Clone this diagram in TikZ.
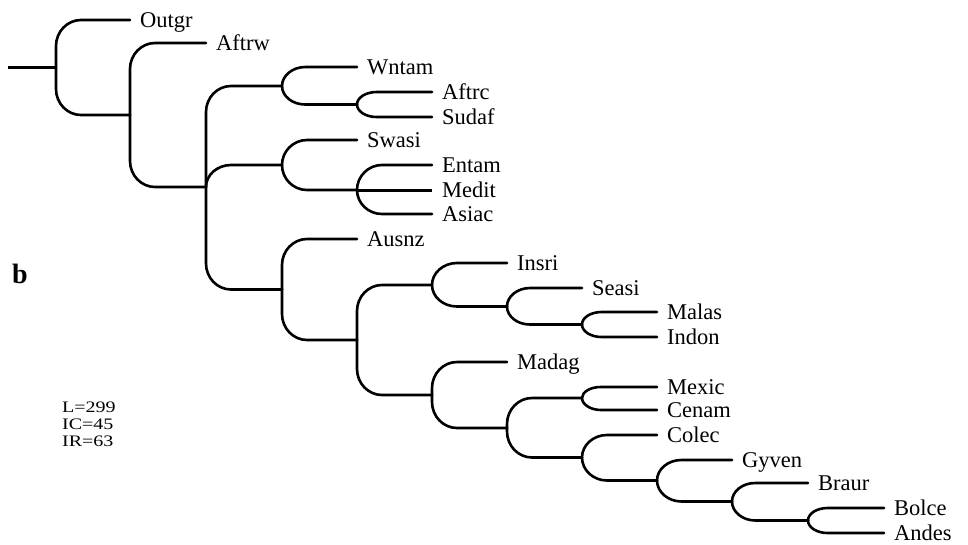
\documentclass[tikz,border=0pt]{standalone}
\usepackage{fontspec}
\setmainfont{Liberation Serif}
\usetikzlibrary{calc}
\tikzset{
  branch/.style={line width=2.6pt, line cap=round, line join=round},
  taxon/.style={anchor=base west, inner sep=0pt, font=\fontsize{22.5}{24}\selectfont},
  stat/.style={anchor=base west, inner sep=0pt, font=\fontsize{16}{17}\selectfont},
}
% branch from node #1 to child #2 with a rounded (elliptic) bend
\newcommand\br[2]{%
  \draw[branch] let \p1=(#1), \p2=(#2),
    \n1={min(abs(\y2-\y1),26)}, \n2={sign(\y2-\y1)},
    \n3={min(25,12+abs(\y2-\y1)*0.6)} in
    (\p1) -- (\x1,{\y2-\n2*\n1})
    .. controls (\x1,{\y2-\n2*\n1*0.45}) and ({\x1+0.45*\n3},\y2) .. ({\x1+\n3},\y2)
    -- (\p2);}
% straight horizontal branch, drawn as a filled bar
\newcommand\sbr[2]{\fill ($(#1)+(0,-1.5)$) rectangle ($(#2)+(0,1.5)$);}
\newcommand\lab[2]{\node[taxon] (l#1) at ($(#1)+(10,7)$) {#2};}
\newcommand\wide[1]{\scalebox{1.25}[1]{#1}}
\begin{document}
\begin{tikzpicture}[x=1pt,y=-1pt]
\useasboundingbox (0,0) rectangle (968,544);
% internal nodes
\coordinate (r0) at (8,67);
\coordinate (n1) at (56,67);
\coordinate (n2) at (130,115);
\coordinate (n3) at (206,187);
\coordinate (n4) at (282,86);
\coordinate (n5) at (357,104.5);
\coordinate (n6) at (282,165);
\coordinate (n7) at (357,190);
\coordinate (n8) at (282,289.5);
\coordinate (n9) at (357,340);
\coordinate (n10) at (432,285);
\coordinate (n11) at (507,306.5);
\coordinate (n12) at (582,324.5);
\coordinate (n13) at (432,395);
\coordinate (n14) at (507,428);
\coordinate (n15) at (582,398);
\coordinate (n16) at (582,457.5);
\coordinate (n17) at (657,480.5);
\coordinate (n18) at (732,501.5);
\coordinate (n19) at (808,520.5);
% tips
\coordinate (Outgr) at (130,20);
\coordinate (Aftrw) at (206,43);
\coordinate (Wntam) at (357,67);
\coordinate (Aftrc) at (432,92);
\coordinate (Sudaf) at (432,117);
\coordinate (Swasi) at (357,140);
\coordinate (Entam) at (432,165);
\coordinate (Medit) at (432,190);
\coordinate (Asiac) at (432,214);
\coordinate (Ausnz) at (357,239);
\coordinate (Insri) at (507,263);
\coordinate (Seasi) at (582,288);
\coordinate (Malas) at (657,312);
\coordinate (Indon) at (657,337);
\coordinate (Madag) at (507,362);
\coordinate (Mexic) at (657,387);
\coordinate (Cenam) at (657,410);
\coordinate (Colec) at (657,435);
\coordinate (Gyven) at (732,460);
\coordinate (Braur) at (808,483);
\coordinate (Bolce) at (884,508);
\coordinate (Andes) at (884,533);
% branches
\sbr{r0}{n1}
\br{n1}{Outgr}\br{n1}{n2}
\br{n2}{Aftrw}\br{n2}{n3}
\br{n3}{n4}\br{n3}{n6}\br{n3}{n8}
\br{n4}{Wntam}\br{n4}{n5}
\br{n5}{Aftrc}\br{n5}{Sudaf}
\br{n6}{Swasi}\br{n6}{n7}
\br{n7}{Entam}\br{n7}{Asiac}
\sbr{n7}{Medit}
\br{n8}{Ausnz}\br{n8}{n9}
\br{n9}{n10}\br{n9}{n13}
\br{n10}{Insri}\br{n10}{n11}
\br{n11}{Seasi}\br{n11}{n12}
\br{n12}{Malas}\br{n12}{Indon}
\br{n13}{Madag}\br{n13}{n14}
\br{n14}{n15}\br{n14}{n16}
\br{n15}{Mexic}\br{n15}{Cenam}
\br{n16}{Colec}\br{n16}{n17}
\br{n17}{Gyven}\br{n17}{n18}
\br{n18}{Braur}\br{n18}{n19}
\br{n19}{Bolce}\br{n19}{Andes}
% labels
\lab{Outgr}{Outgr}\lab{Aftrw}{Aftrw}\lab{Wntam}{Wntam}
\lab{Aftrc}{Aftrc}\lab{Sudaf}{Sudaf}\lab{Swasi}{Swasi}
\lab{Entam}{Entam}\lab{Medit}{Medit}\lab{Asiac}{Asiac}
\lab{Ausnz}{Ausnz}\lab{Insri}{Insri}\lab{Seasi}{Seasi}
\lab{Malas}{Malas}\lab{Indon}{Indon}\lab{Madag}{Madag}
\lab{Mexic}{Mexic}\lab{Cenam}{Cenam}\lab{Colec}{Colec}
\lab{Gyven}{Gyven}\lab{Braur}{Braur}\lab{Bolce}{Bolce}
\lab{Andes}{Andes}
% panel letter and statistics
\node[anchor=base west, inner sep=0pt, font=\fontsize{28}{30}\selectfont\bfseries] (panel) at (12,283) {b};
\node[stat] (sL) at (62,412) {\wide{L=299}};
\node[stat] (sIC) at (62,429) {\wide{IC=45}};
\node[stat] (sIR) at (62,446) {\wide{IR=63}};
\end{tikzpicture}
\end{document}
